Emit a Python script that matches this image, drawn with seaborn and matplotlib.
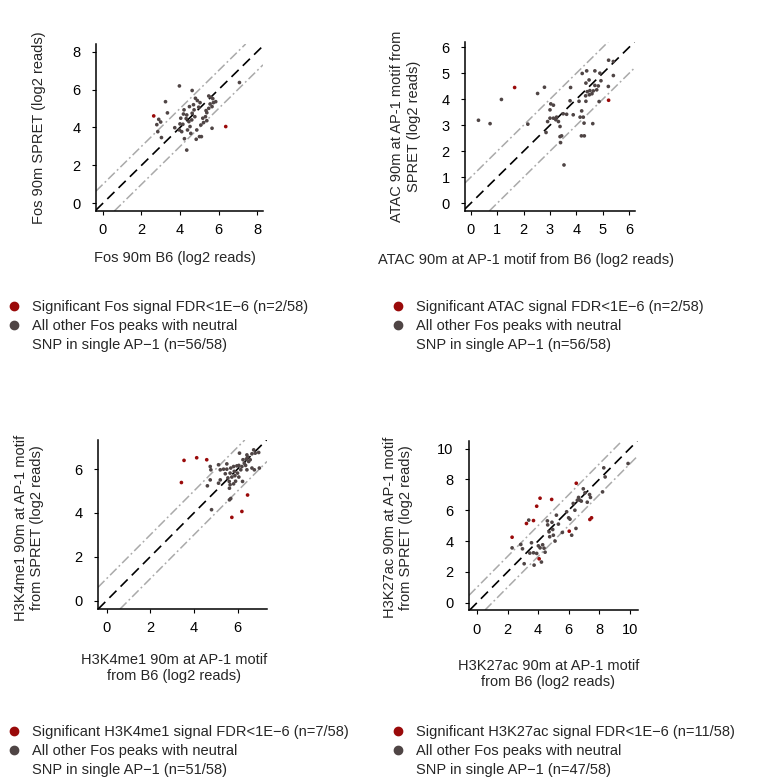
import numpy as np
import pandas as pd
import matplotlib
matplotlib.use("Agg")
import matplotlib.pyplot as plt
import seaborn as sns
from matplotlib.lines import Line2D

sns.set_style("ticks")
plt.rcParams['font.family'] = ['Liberation Sans', 'DejaVu Sans']
plt.rcParams['font.size'] = 10.5

RED = "#9a0a0a"
GREY = "#4f4545"

# ---- Fos ----
fos_sig_b6 = [2.64, 6.37]
fos_sig_spret = [4.61, 4.05]
fos_other_b6 = [3.97, 3.25, 3.35, 2.90, 3.00, 2.80, 2.85, 3.04, 3.73, 3.97, 4.15, 4.23, 4.35, 4.63,
                4.80, 4.90, 5.04, 4.97, 4.73, 4.63, 4.77, 4.21, 4.32, 4.46, 4.52, 4.39, 4.56, 4.84,
                5.01, 5.11, 5.18, 5.32, 5.39, 5.49, 5.56, 5.49, 5.60, 5.70, 5.73, 5.85, 5.66, 5.35,
                5.39, 5.22, 5.66, 7.08, 4.04, 4.18, 4.70, 4.49, 4.35, 4.00, 4.87, 5.08, 4.61, 4.09]
fos_other_spret = [6.19, 5.36, 4.77, 4.43, 4.29, 4.15, 3.78, 3.47, 3.99, 3.87, 4.17, 3.41, 2.81, 5.95,
                   5.54, 5.42, 5.31, 5.07, 4.93, 4.75, 4.57, 4.93, 4.47, 4.31, 4.05, 3.87, 3.69, 3.38,
                   3.52, 3.52, 4.49, 4.57, 4.78, 5.01, 5.24, 5.66, 5.59, 5.52, 5.31, 5.36, 5.10, 4.89,
                   4.36, 4.26, 3.96, 6.37, 4.49, 4.71, 5.20, 5.10, 4.66, 4.19, 3.87, 4.13, 4.40, 3.78]

# ---- ATAC ----
atac_sig_b6 = [1.66, 5.22]
atac_sig_spret = [4.45, 3.96]
atac_other_b6 = [0.29, 0.73, 1.16, 2.16, 2.53, 2.79, 2.85, 2.91, 3.00, 3.03, 3.13, 3.00, 3.13, 3.22,
                 3.25, 3.32, 3.38, 3.44, 3.38, 3.40, 3.53, 3.50, 3.63, 3.78, 3.76, 3.88, 4.10, 4.14,
                 4.19, 4.30, 4.22, 4.20, 4.26, 4.29, 4.36, 4.39, 4.36, 4.41, 4.48, 4.51, 4.64, 4.70,
                 4.77, 4.70, 4.83, 4.89, 4.93, 4.86, 4.62, 5.22, 5.40, 5.21, 5.40, 4.35, 4.49, 4.59]
atac_other_spret = [3.19, 3.06, 3.99, 3.04, 4.22, 4.46, 2.72, 3.14, 3.59, 3.82, 3.77, 3.27, 3.27, 3.21,
                    3.31, 3.14, 2.95, 2.59, 2.56, 2.33, 1.47, 3.44, 3.42, 4.45, 3.94, 3.40, 3.92, 3.31,
                    2.59, 2.59, 4.99, 3.55, 3.31, 3.08, 3.92, 5.09, 4.62, 4.29, 4.74, 4.33, 4.32, 5.09,
                    4.36, 4.53, 4.51, 5.00, 4.71, 3.91, 3.06, 5.50, 5.45, 4.49, 4.91, 4.13, 4.17, 4.21]

# ---- H3K4me1 ----
k4_sig_b6 = [3.55, 3.43, 4.13, 4.59, 5.74, 6.20, 6.46]
k4_sig_spret = [6.40, 5.39, 6.52, 6.43, 3.80, 4.07, 4.82]
k4_other_b6 = [4.75, 4.78, 4.75, 4.62, 4.81, 5.13, 5.21, 5.21, 5.13, 5.36, 5.44, 5.51, 5.56, 5.62,
               5.66, 5.69, 5.74, 5.66, 5.63, 5.82, 5.85, 5.88, 5.91, 5.82, 5.97, 6.00, 6.06, 6.15,
               6.06, 6.09, 6.20, 6.23, 6.25, 6.31, 6.40, 6.43, 6.46, 6.51, 6.37, 6.58, 6.66, 6.74,
               6.81, 6.97, 6.43, 6.66, 6.77, 7.00, 5.63, 5.69, 5.51]
k4_other_spret = [6.12, 5.97, 5.51, 5.24, 4.15, 6.20, 5.97, 5.51, 5.36, 6.00, 5.79, 6.00, 5.60, 5.44,
                  5.82, 6.05, 5.64, 5.29, 5.13, 6.12, 5.90, 5.70, 5.45, 5.33, 6.15, 5.82, 5.64, 5.97,
                  6.17, 6.73, 6.12, 5.44, 6.43, 6.27, 6.46, 6.65, 6.55, 6.35, 6.17, 6.43, 6.70, 6.88,
                  6.73, 6.76, 5.97, 6.05, 5.97, 6.05, 4.60, 4.66, 6.24]

# ---- H3K27ac ----
k27_sig_b6 = [2.30, 3.24, 3.70, 3.91, 4.13, 4.89, 4.07, 6.04, 6.50, 7.39, 7.50]
k27_sig_spret = [4.25, 5.14, 5.33, 6.26, 6.78, 6.70, 2.85, 4.64, 7.75, 5.40, 5.51]
k27_other_b6 = [2.30, 2.87, 2.98, 3.09, 3.39, 3.46, 3.57, 3.70, 3.74, 3.91, 4.02, 4.13, 4.22, 4.30,
                4.39, 4.46, 4.61, 4.63, 4.72, 4.76, 4.91, 4.96, 5.00, 5.11, 5.20, 5.33, 5.59, 5.87,
                6.00, 6.09, 6.20, 6.30, 6.41, 6.48, 6.57, 6.65, 6.74, 6.83, 6.96, 7.07, 7.22, 7.37,
                7.43, 8.22, 8.30, 8.39, 9.89]
k27_other_spret = [3.56, 3.78, 3.50, 2.53, 5.36, 3.22, 3.89, 3.24, 2.44, 3.20, 3.69, 3.56, 2.64, 3.76,
                   3.54, 3.28, 5.31, 5.05, 4.60, 4.28, 5.22, 4.75, 4.38, 4.00, 5.68, 5.10, 4.56, 5.90,
                   5.51, 5.42, 4.38, 6.44, 6.00, 4.82, 6.65, 6.83, 6.65, 6.59, 7.39, 7.13, 6.52, 7.02,
                   6.83, 7.19, 8.75, 8.16, 9.03]

band_offsets = [-1, 1]

panels = [
    dict(sig=(fos_sig_b6, fos_sig_spret), other=(fos_other_b6, fos_other_spret),
         rect=[96, 44, 263, 211], xlim=(-0.35, 8.3), ylim=(-0.4, 8.4),
         ticks=[0, 2, 4, 6, 8], yticks=[0, 2, 4, 6, 8],
         xlabel="Fos 90m B6 (log2 reads)", xl=(0.47, -0.28),
         ylabel="Fos 90m SPRET (log2 reads)", yl=(-0.34, 0.5),
         leg=(14, 306), mark="Fos", n_sig=2, n_other=56),
    dict(sig=(atac_sig_b6, atac_sig_spret), other=(atac_other_b6, atac_other_spret),
         rect=[465, 42, 635, 211], xlim=(-0.22, 6.22), ylim=(-0.3, 6.2),
         ticks=[0, 1, 2, 3, 4, 5, 6], yticks=[0, 1, 2, 3, 4, 5, 6],
         xlabel="ATAC 90m at AP-1 motif from B6 (log2 reads)", xl=(0.36, -0.29),
         ylabel="ATAC 90m at AP-1 motif from\nSPRET (log2 reads)", yl=(-0.35, 0.5),
         leg=(398, 306), mark="ATAC", n_sig=2, n_other=56),
    dict(sig=(k4_sig_b6, k4_sig_spret), other=(k4_other_b6, k4_other_spret),
         rect=[98, 440, 267, 609], xlim=(-0.39, 7.35), ylim=(-0.38, 7.33),
         ticks=[0, 2, 4, 6], yticks=[0, 2, 4, 6],
         xlabel="H3K4me1 90m at AP-1 motif\nfrom B6 (log2 reads)", xl=(0.45, -0.35),
         ylabel="H3K4me1 90m at AP-1 motif\nfrom SPRET (log2 reads)", yl=(-0.41, 0.48),
         leg=(14, 731), mark="H3K4me1", n_sig=7, n_other=51),
    dict(sig=(k27_sig_b6, k27_sig_spret), other=(k27_other_b6, k27_other_spret),
         rect=[469, 441, 638, 610], xlim=(-0.52, 10.54), ylim=(-0.47, 10.49),
         ticks=[0, 2, 4, 6, 8, 10], yticks=[0, 2, 4, 6, 8, 10],
         xlabel="H3K27ac 90m at AP-1 motif\nfrom B6 (log2 reads)", xl=(0.47, -0.38),
         ylabel="H3K27ac 90m at AP-1 motif\nfrom SPRET (log2 reads)", yl=(-0.42, 0.49),
         leg=(398, 731), mark="H3K27ac", n_sig=11, n_other=47),
]

W, H = 761, 780
fig = plt.figure(figsize=(W / 100, H / 100), dpi=100)

for p in panels:
    l, t, r, b = p["rect"]
    ax = fig.add_axes([l / W, 1 - b / H, (r - l) / W, (b - t) / H])
    df = pd.concat([
        pd.DataFrame({"b6": p["other"][0], "spret": p["other"][1], "grp": "other"}),
        pd.DataFrame({"b6": p["sig"][0], "spret": p["sig"][1], "grp": "sig"}),
    ])
    sns.scatterplot(data=df, x="b6", y="spret", hue="grp",
                    palette={"other": GREY, "sig": RED}, s=7, linewidth=0,
                    legend=False, ax=ax, zorder=3)
    ax.axline((0, 0), slope=1, color="black", lw=1.2, ls=(0, (6, 3.5)), zorder=2)
    for off in band_offsets:
        ax.axline((0, off), slope=1, color="#aaaaaa", lw=1.1, ls=(0, (6, 2, 1.2, 2)), zorder=1)
    ax.set_xlim(*p["xlim"])
    ax.set_ylim(*p["ylim"])
    ax.set_xticks(p["ticks"])
    ax.set_yticks(p["yticks"])
    sns.despine(ax=ax)
    for s in ("left", "bottom"):
        ax.spines[s].set_linewidth(1.1)
        ax.spines[s].set_color("black")
    ax.tick_params(axis="x", length=3, width=0.8, color="black", labelsize=10.5, pad=6,
                   labelcolor="black")
    ax.tick_params(axis="y", length=3, width=0.8, color="black", labelsize=10.5, pad=8,
                   labelcolor="black")
    ax.set_xlabel(p["xlabel"], fontsize=10.5, va="center", multialignment="center")
    ax.xaxis.set_label_coords(*p["xl"])
    ax.set_ylabel(p["ylabel"], fontsize=10.5, va="center", multialignment="center")
    ax.yaxis.set_label_coords(*p["yl"])

    handles = [
        Line2D([], [], ls="none", marker="o", ms=6, color=RED),
        Line2D([], [], ls="none", marker="o", ms=6, color=GREY),
        Line2D([], [], ls="none"),
    ]
    labels = [
        f"Significant {p['mark']} signal FDR<1E\u22126 (n={p['n_sig']}/58)",
        "All other Fos peaks with neutral",
        f"SNP in single AP\u22121 (n={p['n_other']}/58)",
    ]
    lx, ly = p["leg"]
    fig.legend(handles, labels, loc="upper left",
               bbox_to_anchor=((lx - 7.3) / W, 1 - (ly - 6) / H),
               frameon=False, fontsize=10.5, handlelength=1.0, handletextpad=0.75,
               borderpad=0, borderaxespad=0, labelspacing=0.35)

fig.savefig("out.png", dpi=100)
